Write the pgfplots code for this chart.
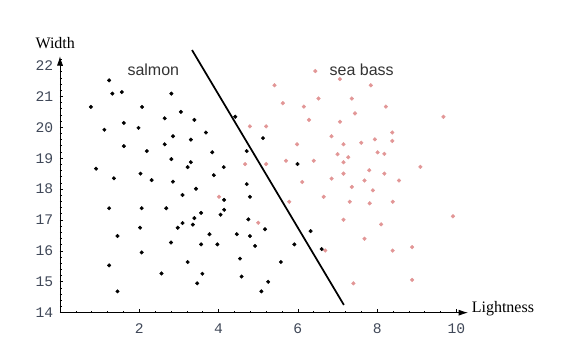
\documentclass[border=0pt]{standalone}
\usepackage{pgfplots}
\pgfplotsset{compat=1.18}
\usetikzlibrary{arrows.meta}
\usepackage{fontspec}
\setmainfont{Liberation Serif}
\newfontfamily\sansf{Liberation Sans}
\newfontfamily\monof{Liberation Mono}
\definecolor{seabass}{RGB}{226,150,150}
\definecolor{ticklab}{RGB}{64,72,88}
\begin{document}
\begin{tikzpicture}
\begin{axis}[
  x=29.74pt, y=23.175pt,
  xmin=0, xmax=10.29, ymin=14, ymax=22.3,
  enlargelimits=false,
  axis lines=left,
  axis line style={line width=0.6pt,-{Latex[length=7pt,width=4.5pt]}},
  clip=false,
  xtick={2,4,6,8,10},
  ytick={14,15,...,22},
  minor xtick={0.4,0.8,...,10.2},
  minor ytick={14.2,14.4,...,22.2},
  tick align=inside,
  major tick length=2.4pt,
  minor tick length=1.5pt,
  tick style={line width=0.5pt,black},
  /pgf/number format/assume math mode=true,
  ticklabel style={font=\monof\fontsize{11}{13}\selectfont, text=ticklab},
  xticklabel style={yshift=-5pt},
  yticklabel style={xshift=-1.5pt},
]
\addplot[only marks, mark=*, mark size=1.4pt, mark options={draw=seabass, fill=seabass, line width=0.3pt}] coordinates {
(6.44,21.82) (5.41,21.36) (6.52,20.93) (5.62,20.78) (6.15,20.67) (6.28,20.24)
(4.79,20.03) (5.20,20.03) (5.98,19.45) (5.70,18.92) (6.40,18.92) (4.67,18.81)
(5.20,18.81) (6.11,18.23) (7.06,21.56) (7.84,21.36) (7.36,20.93) (8.22,20.67)
(7.44,20.45) (9.67,20.34) (7.06,20.18) (8.38,19.83) (6.85,19.71) (7.94,19.61)
(8.38,19.56) (7.60,19.50) (7.15,19.45) (7.00,19.13) (8.01,19.19) (8.18,19.14)
(7.27,19.03) (7.15,18.87) (9.09,18.72) (7.80,18.61) (6.85,18.34) (7.15,18.50)
(8.18,18.50) (7.68,18.28) (8.55,18.28) (7.36,18.07) (7.89,17.96) (6.65,17.75)
(7.31,17.59) (7.81,17.54) (8.39,17.59) (7.15,17.01) (9.91,17.12) (8.10,16.86)
(7.68,16.39) (6.69,16.01) (8.39,16.01) (8.88,16.12) (7.40,14.95) (8.88,15.06)
(4.01,17.75) (5.00,16.91) (5.78,17.59)
};
\addplot[only marks, mark=*, mark size=1.35pt, mark options={draw=black, fill=black, line width=0.3pt}] coordinates {
(1.24,21.52) (1.32,21.09) (1.56,21.14) (2.81,21.09) (0.78,20.66) (2.07,20.66)
(3.05,20.50) (2.64,20.29) (3.39,20.24) (1.61,20.14) (1.12,19.92) (1.98,19.98)
(2.85,19.71) (3.30,19.60) (1.61,19.39) (2.19,19.23) (2.64,19.45) (2.81,18.97)
(3.30,18.87) (3.22,18.71) (0.91,18.66) (1.36,18.35) (2.03,18.50) (2.31,18.29)
(2.85,18.24) (4.42,20.34) (3.68,19.83) (5.12,19.65) (3.84,19.19) (4.71,19.23)
(4.13,18.71) (3.88,18.45) (4.71,18.16) (5.99,18.81) (3.43,18.01) (4.14,17.65)
(4.79,17.75) (4.14,17.33) (4.05,17.17) (3.56,17.23) (3.39,17.06) (3.35,16.85)
(4.75,17.02) (5.17,16.70) (3.77,16.54) (4.46,16.54) (4.79,16.48) (3.56,16.21)
(3.97,16.21) (4.92,16.16) (5.91,16.21) (4.54,15.75) (5.57,15.64) (3.59,15.26)
(4.58,15.17) (3.46,14.95) (5.25,15.00) (5.08,14.69) (6.32,16.64) (6.60,16.06)
(3.09,17.81) (1.24,17.38) (2.06,17.38) (2.68,17.38) (3.09,16.90) (2.97,16.75)
(2.02,16.75) (1.45,16.48) (2.80,16.27) (2.06,15.95) (1.24,15.53) (3.22,15.64)
(2.56,15.27) (1.45,14.69)
};
\addplot[black, line width=1.3pt, no marks] coordinates {(3.33,22.50) (7.16,14.25)};
\node[anchor=base, font=\sansf\fontsize{12}{14}\selectfont, text=black!80] at (axis cs:2.353,21.69) {salmon};
\node[anchor=base, font=\sansf\fontsize{12}{14}\selectfont, text=black!80] at (axis cs:7.61,21.69) {sea bass};
\node[anchor=base, font=\fontsize{12}{14}\selectfont, inner sep=0pt] at (axis cs:-0.12,22.56) {Width};
\node[anchor=base west, font=\fontsize{12}{14}\selectfont, inner sep=0pt] at (axis cs:10.38,14.0) {Lightness};
\coordinate (bl) at (axis cs:-1.513,12.793);
\coordinate (tr) at (axis cs:13.115,24.12);
\end{axis}
\pgfresetboundingbox
\path (bl) rectangle (tr);
\end{tikzpicture}
\end{document}
